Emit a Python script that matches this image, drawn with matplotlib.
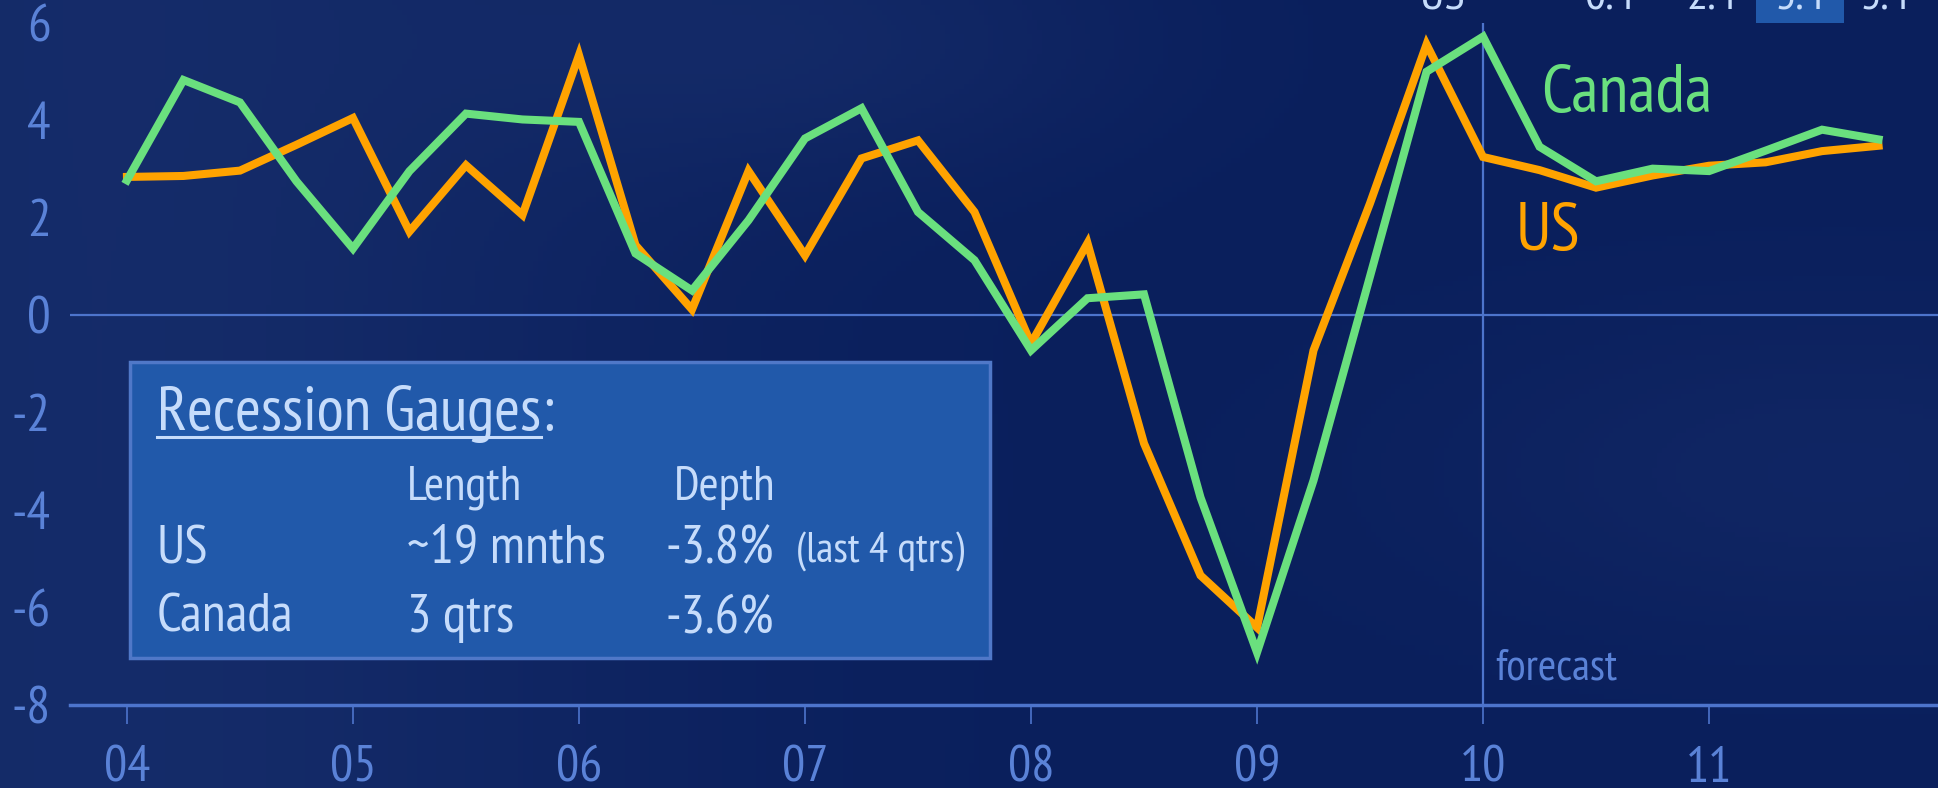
import numpy as np
import matplotlib
matplotlib.use('Agg')
import matplotlib.pyplot as plt
from matplotlib.patches import Rectangle
from matplotlib.lines import Line2D

plt.rcParams['font.family'] = ['PT Sans Narrow', 'Fira Sans Extra Condensed', 'DejaVu Sans']
plt.rcParams['axes.unicode_minus'] = False

# quarterly real GDP growth (% q/q annualized), 2004Q1 .. 2011Q4
quarters = 2004 + np.arange(32) * 0.25
us = [2.84, 2.86, 2.97, 3.50, 4.05, 1.72, 3.08, 2.06,
      5.34, 1.44, 0.12, 2.96, 1.23, 3.22, 3.59, 2.12,
      -0.58, 1.48, -2.63, -5.34, -6.41, -0.72, 2.30, 5.56,
      3.25, 2.98, 2.62, 2.87, 3.07, 3.14, 3.37, 3.48]
canada = [2.77, 4.83, 4.37, 2.75, 1.37, 2.96, 4.14, 4.02,
          3.97, 1.27, 0.51, 1.95, 3.63, 4.25, 2.12, 1.13,
          -0.72, 0.35, 0.43, -3.74, -6.92, -3.39, 0.80, 5.00,
          5.72, 3.46, 2.75, 3.01, 2.96, 3.38, 3.81, 3.61]
year_ticks = [2004, 2005, 2006, 2007, 2008, 2009, 2010, 2011]
year_labels = ['04', '05', '06', '07', '08', '09', '10', '11']
gauge_rows = [('US', '~19 mnths', '-3.8%'), ('Canada', '3 qtrs', '-3.6%')]
top_row = ['US', '0.4', '2.4', '3.4', '3.4']

W, H = 1938, 788
fig = plt.figure(figsize=(W / 100, H / 100), dpi=100)


def fx(x):
    return x / W


def fy(y):
    return 1 - y / H


# background
bg = fig.add_axes([0, 0, 1, 1], zorder=0)
gx, gy = np.meshgrid(np.linspace(0, 1, 400), np.linspace(0, 1, 160))
light = (0.55 * np.exp(-((gx - 0.05) ** 2) / 0.08)
         + 0.35 * np.exp(-((gx - 0.42) ** 2 + (gy - 0.05) ** 2) / 0.03)
         + 0.30 * np.exp(-((gx - 0.95) ** 2 + (gy - 0.6) ** 2) / 0.05))
dark = np.array([10, 31, 92]) / 255
lite = np.array([30, 54, 116]) / 255
img = dark + light[..., None] * (lite - dark)
bg.imshow(np.clip(img, 0, 1), aspect='auto', extent=[0, 1, 0, 1], origin='upper')
bg.set_axis_off()

axis_col = '#4d74cc'
tick_col = '#5a82d7'

ax = fig.add_axes([fx(70), 83 / H, 1 - fx(70), (765 - 83) / H], zorder=1)
ax.patch.set_alpha(0)
ax.set_xlim(2003.748, 2012.013)
ax.set_ylim(-8, 6)

ax.axhline(0, color=axis_col, lw=1.6, zorder=1)
ax.axvline(2010, color=axis_col, lw=1.6, zorder=1)

ax.plot(quarters, us, color='#ffa300', lw=5.8, solid_joinstyle='miter', zorder=3)
ax.plot(quarters, canada, color='#6ae07e', lw=5.8, solid_joinstyle='miter', zorder=4)

for s in ['top', 'right', 'left']:
    ax.spines[s].set_visible(False)
ax.spines['bottom'].set_color(axis_col)
ax.spines['bottom'].set_linewidth(2.5)

ax.set_xticks(year_ticks)
ax.set_xticklabels(year_labels)
ax.set_yticks(np.arange(-8, 7, 2))
ax.tick_params(axis='x', direction='out', length=13.5, width=1.2, color=axis_col,
               labelsize=37, labelcolor=tick_col, pad=16)
ax.tick_params(axis='y', length=0, labelsize=38, labelcolor=tick_col, pad=14)

fig.text(fx(1495), fy(680), 'forecast', color=tick_col, fontsize=32,
         ha='left', va='baseline')

# series labels
fig.text(fx(1541), fy(112), 'Canada', color='#6ae07e', fontsize=49, va='baseline')
fig.text(fx(1516), fy(250), 'US', color='#ffa300', fontsize=49, va='baseline')

# recession gauges box
box = Rectangle((fx(130), fy(658)), fx(990) - fx(130), fy(362) - fy(658),
                transform=fig.transFigure, facecolor='#2159aa',
                edgecolor='#5078c8', lw=2.5, zorder=5)
fig.add_artist(box)
txt_col = '#c6dcfb'
t = fig.text(fx(157), fy(430), 'Recession Gauges', color=txt_col, fontsize=45,
             va='baseline', zorder=6)
fig.canvas.draw()
bb = t.get_window_extent()
fig.text(bb.x1 / W, fy(430), ':', color=txt_col, fontsize=45, va='baseline', zorder=6)
fig.add_artist(Line2D([bb.x0 / W, bb.x1 / W], [fy(437), fy(437)],
                      color=txt_col, lw=2.2, zorder=6))

fig.text(fx(407), fy(500), 'Length', color=txt_col, fontsize=35, va='baseline', zorder=6)
fig.text(fx(674), fy(500), 'Depth', color=txt_col, fontsize=35, va='baseline', zorder=6)
for (name, length, depth), yb in zip(gauge_rows, [563, 632]):
    fig.text(fx(157), fy(yb), name, color=txt_col, fontsize=39, va='baseline', zorder=6)
    fig.text(fx(407), fy(yb), length, color=txt_col, fontsize=39, va='baseline', zorder=6)
    fig.text(fx(666), fy(yb), depth, color=txt_col, fontsize=39, va='baseline', zorder=6)
fig.text(fx(796), fy(563), '(last 4 qtrs)', color=txt_col, fontsize=31,
         va='baseline', zorder=6)

# cut-off table row at the top edge
fig.add_artist(Rectangle((fx(1756), fy(23)), fx(1844) - fx(1756), fy(0) - fy(23),
                         transform=fig.transFigure, facecolor='#2159aa', lw=0, zorder=2))
for lab, xc in zip(top_row, [1442, 1610, 1712, 1800, 1885]):
    fig.text(fx(xc), fy(10), lab, color=txt_col, fontsize=34, ha='center',
             va='baseline', zorder=6)

fig.savefig('out.png', dpi=100)
